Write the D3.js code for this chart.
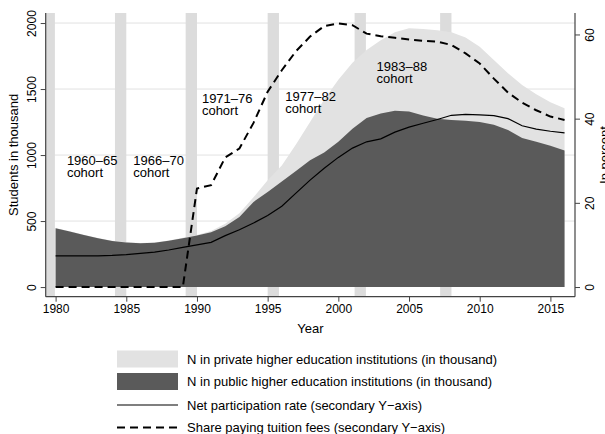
<!DOCTYPE html>
<html>
<head>
<meta charset="utf-8">
<script src="https://cdn.jsdelivr.net/npm/d3@7"></script>
<style>
  body { margin: 0; background: #fff; }
  text { font-family: "Liberation Sans", Arial, Helvetica, sans-serif; fill: #000; }
</style>
</head>
<body>
<div id="chart"></div>
<script>
var years = d3.range(1980, 2017);

// students in thousand
var publicN = [445, 420, 395, 370, 348, 338, 332, 336, 350, 370,
               390, 415, 460, 530, 645, 720, 800, 880, 960, 1020,
               1100, 1200, 1280, 1315, 1335, 1330, 1300, 1275, 1265, 1260,
               1250, 1230, 1190, 1130, 1100, 1070, 1035];
var privateN = [2, 2, 2, 2, 2, 2, 2, 2, 2, 3,
                5, 10, 20, 30, 35, 90, 120, 200, 290, 400,
                470, 500, 515, 555, 595, 630, 655, 670, 665, 630,
                570, 490, 430, 400, 360, 330, 320];

// percent (secondary axis)
var netRate = [7.4, 7.4, 7.4, 7.4, 7.5, 7.7, 8.0, 8.3, 8.8, 9.4,
               10.0, 10.6, 12.2, 13.6, 15.2, 17.0, 19.2, 22.3, 25.4, 28.2,
               30.8, 33.0, 34.5, 35.2, 36.8, 38.0, 38.9, 39.8, 40.8, 41.0,
               40.9, 40.7, 40.0, 38.3, 37.5, 37.0, 36.6];
var feeShare = [0, 0, 0, 0, 0, 0, 0, 0, 0, 0,
                23.4, 24.2, 30.8, 32.9, 39.0, 46.4, 51.5, 56.0, 59.5, 62.0,
                62.6, 62.2, 60.2, 59.6, 59.2, 58.8, 58.5, 58.3, 57.5, 55.5,
                53.1, 49.5, 46.2, 43.8, 42.0, 40.5, 39.7];

var bandStarts = [1979.15, 1984.2, 1989.2, 1995.0, 2001.15, 2007.2];
var bandWidth = 0.8;

var cohortLabels = ["1960\u201365", "1966\u201370", "1971\u201376", "1977\u201382", "1983\u201388"];
var cohortYears = [1980.8, 1985.5, 1990.35, 1996.25, 2002.7];
var cohortValues = [928, 928, 1394, 1413, 1636];

var xTicks = [1980, 1985, 1990, 1995, 2000, 2005, 2010, 2015];
var yTicks = [0, 500, 1000, 1500, 2000];
var y2Ticks = [0, 20, 40, 60];

var legendLabels = [
  "N in private higher education institutions (in thousand)",
  "N in public higher education institutions (in thousand)",
  "Net participation rate (secondary Y\u2212axis)",
  "Share paying tuition fees (secondary Y\u2212axis)"
];

var width = 605, height = 434;
var plot = {left: 45.7, right: 575, top: 13, bottom: 296.7};

var svg = d3.select("#chart").append("svg")
    .attr("width", width)
    .attr("height", height);

var x = d3.scaleLinear().domain([1979.3, 2016.74]).range([plot.left, plot.right]);
var y = d3.scaleLinear().domain([-73, 2076]).range([plot.bottom, plot.top]);
var y2 = d3.scaleLinear().domain([-2.3, 65.1]).range([plot.bottom, plot.top]);

var rows = years.map(function(yr, i) {
  return {year: yr, pub: publicN[i], tot: publicN[i] + privateN[i], net: netRate[i], fee: feeShare[i]};
});

// grid
svg.append("g").selectAll("line")
  .data(yTicks.slice(1))
  .enter().append("line")
    .attr("x1", plot.left).attr("x2", plot.right)
    .attr("y1", function(d) { return y(d); })
    .attr("y2", function(d) { return y(d); })
    .attr("stroke", "#e2e2e2")
    .attr("stroke-width", 1);

// cohort bands
svg.append("g").selectAll("rect")
  .data(bandStarts)
  .enter().append("rect")
    .attr("x", function(d) { return Math.max(x(d), plot.left); })
    .attr("width", function(d) { return x(d + bandWidth) - Math.max(x(d), plot.left); })
    .attr("y", plot.top)
    .attr("height", plot.bottom - plot.top)
    .attr("fill", "#dcdcdc");

// areas
var totalArea = d3.area()
    .x(function(d) { return x(d.year); })
    .y0(y(0))
    .y1(function(d) { return y(d.tot); });
var publicArea = d3.area()
    .x(function(d) { return x(d.year); })
    .y0(y(0))
    .y1(function(d) { return y(d.pub); });

svg.append("path").datum(rows)
  .attr("d", totalArea)
  .attr("fill", "#e2e2e2");
svg.append("path").datum(rows)
  .attr("d", publicArea)
  .attr("fill", "#5a5a5a");

// lines
var netLine = d3.line()
    .x(function(d) { return x(d.year); })
    .y(function(d) { return y2(d.net); });
var feeLine = d3.line()
    .x(function(d) { return x(d.year); })
    .y(function(d) { return y2(d.fee); });

svg.append("path").datum(rows)
  .attr("d", netLine)
  .attr("fill", "none")
  .attr("stroke", "#000")
  .attr("stroke-width", 1.2);
svg.append("path").datum(rows)
  .attr("d", feeLine)
  .attr("fill", "none")
  .attr("stroke", "#000")
  .attr("stroke-width", 2)
  .attr("stroke-dasharray", "8,5");

// cohort labels
var coh = svg.append("g").selectAll("text")
  .data(cohortLabels)
  .enter().append("text")
    .attr("x", function(d, i) { return x(cohortYears[i]); })
    .attr("y", function(d, i) { return y(cohortValues[i]); })
    .attr("font-size", 13);
coh.append("tspan").text(function(d) { return d; });
coh.append("tspan")
  .attr("x", function(d, i) { return x(cohortYears[i]); })
  .attr("dy", 12)
  .text("cohort");

// axes
var axisColor = "#444";

var xAxis = svg.append("g")
    .attr("transform", "translate(0," + plot.bottom + ")")
    .call(d3.axisBottom(x).tickValues(xTicks).tickSize(5).tickPadding(3).tickFormat(d3.format("d")));
var yAxis = svg.append("g")
    .attr("transform", "translate(" + plot.left + ",0)")
    .call(d3.axisLeft(y).tickValues(yTicks).tickSize(5).tickFormat(d3.format("d")));
var y2Axis = svg.append("g")
    .attr("transform", "translate(" + plot.right + ",0)")
    .call(d3.axisRight(y2).tickValues(y2Ticks).tickSize(5).tickFormat(d3.format("d")));

[xAxis, yAxis, y2Axis].forEach(function(g) {
  g.select(".domain").attr("stroke", axisColor).attr("stroke-width", 1.2);
  g.selectAll(".tick line").attr("stroke", axisColor);
  g.selectAll("text").attr("font-size", 12).attr("fill", "#000")
    .attr("font-family", "'Liberation Sans', Arial, sans-serif");
});
xAxis.select(".domain").attr("d", "M" + plot.left + ",0H" + plot.right);
yAxis.select(".domain").attr("d", "M0," + plot.top + "V" + plot.bottom);
y2Axis.select(".domain").attr("d", "M0," + plot.top + "V" + plot.bottom);

yAxis.selectAll(".tick text")
  .attr("x", null).attr("dy", null)
  .attr("text-anchor", "middle")
  .attr("transform", "translate(-10,0) rotate(-90)");
y2Axis.selectAll(".tick text")
  .attr("x", null).attr("dy", null)
  .attr("text-anchor", "middle")
  .attr("transform", "translate(19,0) rotate(-90)");

svg.append("text")
  .attr("text-anchor", "middle")
  .attr("font-size", 13)
  .attr("transform", "translate(" + ((plot.left + plot.right) / 2) + "," + 333 + ")")
  .text("Year");

svg.append("text")
  .attr("text-anchor", "middle")
  .attr("font-size", 13)
  .attr("transform", "translate(18," + ((plot.top + plot.bottom) / 2) + ") rotate(-90)")
  .text("Students in thousand");

svg.append("text")
  .attr("text-anchor", "middle")
  .attr("font-size", 13)
  .attr("transform", "translate(609," + 155 + ") rotate(-90)")
  .text("In percent");

// legend
var legend = svg.append("g").attr("transform", "translate(117,0)");
var rowY = [359, 381.5, 405, 427.5];

legend.append("rect")
  .attr("x", 0).attr("y", rowY[0] - 8.5).attr("width", 61).attr("height", 17)
  .attr("fill", "#e2e2e2");
legend.append("rect")
  .attr("x", 0).attr("y", rowY[1] - 8.5).attr("width", 61).attr("height", 17)
  .attr("fill", "#5a5a5a");
legend.append("line")
  .attr("x1", 0).attr("x2", 61).attr("y1", rowY[2]).attr("y2", rowY[2])
  .attr("stroke", "#000").attr("stroke-width", 1.2);
legend.append("line")
  .attr("x1", 0).attr("x2", 61).attr("y1", rowY[3]).attr("y2", rowY[3])
  .attr("stroke", "#000").attr("stroke-width", 2)
  .attr("stroke-dasharray", "8,5");

legend.selectAll("text.lab")
  .data(legendLabels)
  .enter().append("text")
    .attr("class", "lab")
    .attr("x", 70)
    .attr("y", function(d, i) { return rowY[i] + 4.5; })
    .attr("font-size", 13)
    .text(function(d) { return d; });
</script>
</body>
</html>
